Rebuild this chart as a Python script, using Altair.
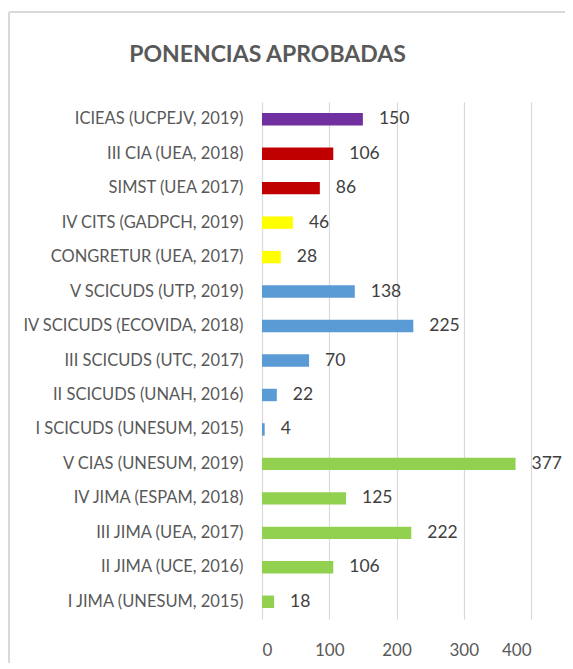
import altair as alt
import pandas as pd

categories = [
    "ICIEAS (UCPEJV, 2019)",
    "III CIA (UEA, 2018)",
    "SIMST (UEA 2017)",
    "IV CITS (GADPCH, 2019)",
    "CONGRETUR (UEA, 2017)",
    "V SCICUDS (UTP, 2019)",
    "IV SCICUDS (ECOVIDA, 2018)",
    "III SCICUDS (UTC, 2017)",
    "II SCICUDS (UNAH, 2016)",
    "I SCICUDS (UNESUM, 2015)",
    "V CIAS (UNESUM, 2019)",
    "IV JIMA (ESPAM, 2018)",
    "III JIMA (UEA, 2017)",
    "II JIMA (UCE, 2016)",
    "I JIMA (UNESUM, 2015)",
]
values = [150, 106, 86, 46, 28, 138, 225, 70, 22, 4, 377, 125, 222, 106, 18]
bar_colors = [
    "#7030A0", "#C00000", "#C00000", "#FFFF00", "#FFFF00",
    "#5B9BD5", "#5B9BD5", "#5B9BD5", "#5B9BD5", "#5B9BD5",
    "#92D050", "#92D050", "#92D050", "#92D050", "#92D050",
]
x_ticks = [0, 100, 200, 300, 400]
title_text = "PONENCIAS APROBADAS"

df = pd.DataFrame({"cat": categories, "val": values, "color": bar_colors})

W, H = 269, 517
FONT = "Lato"

y_enc = alt.Y(
    "cat:N", sort=categories, title=None,
    scale=alt.Scale(paddingInner=0.64, paddingOuter=0.32),
    axis=alt.Axis(labelFont=FONT, labelFontSize=16.5, labelColor="#595959",
                  labelPadding=19, ticks=False, domain=False, labelLimit=300),
)
x_enc = alt.X(
    "val:Q", title=None,
    scale=alt.Scale(domain=[0, 400], nice=False),
    axis=alt.Axis(values=x_ticks, labelFont=FONT, labelFontSize=17, labelColor="#595959",
                  labelPadding=23, ticks=False, domain=False, grid=True,
                  gridColor="#D9D9D9", gridWidth=1.2),
)

bars = alt.Chart(df).mark_bar().encode(
    x=x_enc, y=y_enc, color=alt.Color("color:N", scale=None)
)
labels = alt.Chart(df).mark_text(
    align="left", baseline="middle", dx=16, font=FONT, fontSize=17.5, color="#404040"
).encode(x="val:Q", y=alt.Y("cat:N", sort=categories), text="val:Q")

title = alt.Chart(pd.DataFrame({"t": [title_text]})).mark_text(
    align="center", baseline="alphabetic", font=FONT, fontSize=23,
    fontWeight="bold", color="#595959"
).encode(x=alt.value(5.5), y=alt.value(-40), text="t:N")

border_left = alt.Chart(df).mark_rule(color="#D9D9D9", strokeWidth=1.5).encode(
    x=alt.value(-253), y=alt.value(-90), y2=alt.value(600)
)
border_top = alt.Chart(df).mark_rule(color="#D9D9D9", strokeWidth=1.5).encode(
    x=alt.value(-253), x2=alt.value(320), y=alt.value(-90)
)

chart = alt.layer(border_left, border_top, bars, labels, title).properties(
    width=W, height=H,
    padding={"left": 254, "top": 94, "right": 34, "bottom": 44},
    autosize=alt.AutoSizeParams(type="none"),
).configure_view(stroke=None)

chart.save("out.html", embed_options={"renderer": "svg", "actions": False})
